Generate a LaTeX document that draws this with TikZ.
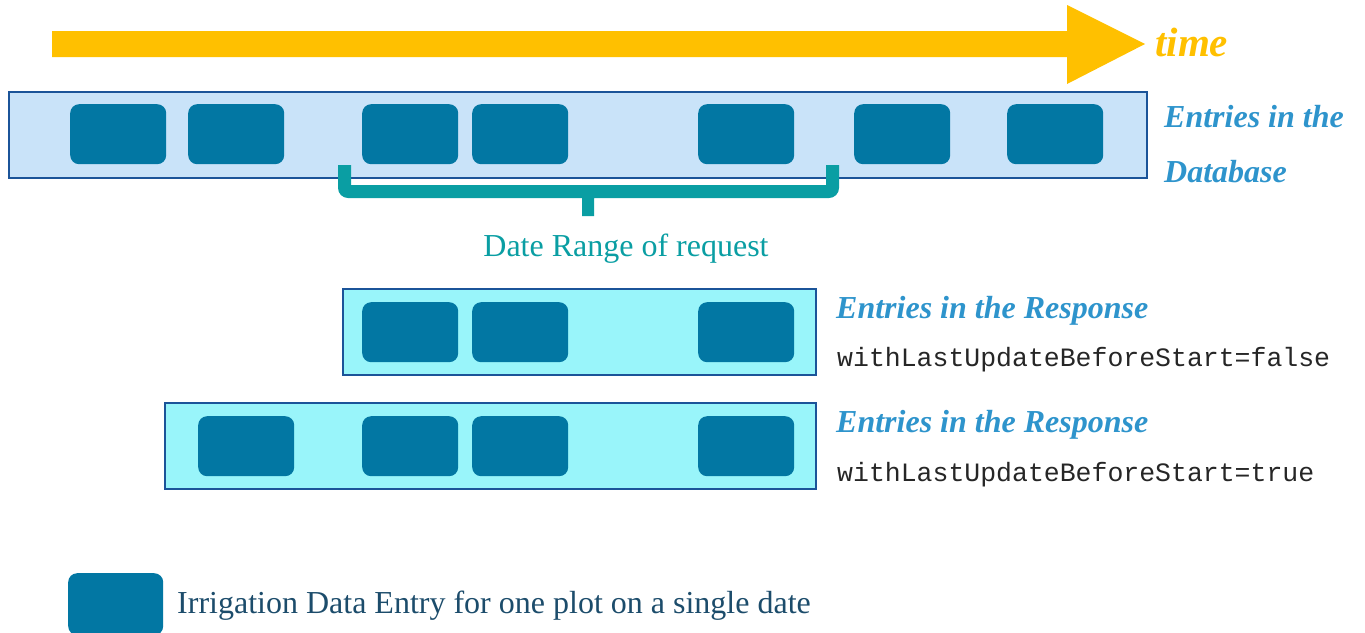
\documentclass[tikz,border=0pt]{standalone}
\usepackage{fontspec}
\setmainfont{Liberation Serif}
\setmonofont{Liberation Mono}
\definecolor{timeorange}{HTML}{FFC000}
\definecolor{dbfill}{HTML}{C9E3F9}
\definecolor{frameblue}{HTML}{1B5499}
\definecolor{entryblue}{HTML}{0277A3}
\definecolor{respfill}{HTML}{99F5FA}
\definecolor{rangeteal}{HTML}{0A9EA3}
\definecolor{labelblue}{HTML}{2E94CC}
\definecolor{codegray}{HTML}{262626}
\definecolor{legendtext}{HTML}{1C4C6B}
\begin{document}
\begin{tikzpicture}[x=1pt,y=-1pt,
  entry/.style={fill=entryblue,rounded corners=9pt,minimum width=96pt,minimum height=60pt,inner sep=0pt,anchor=north west},
  dbbox/.style={fill=dbfill,draw=frameblue,line width=2pt},
  respbox/.style={fill=respfill,draw=frameblue,line width=2pt},
  heading/.style={anchor=base west,inner sep=0pt,text=labelblue,font=\fontsize{32}{38}\selectfont\bfseries\itshape},
  code/.style={anchor=base west,inner sep=0pt,text=codegray,font=\fontsize{26.5}{30}\selectfont\ttfamily},
  plain/.style={anchor=base west,inner sep=0pt,font=\fontsize{32}{38}\selectfont}]
\useasboundingbox (0,0) rectangle (1365,632);

% time axis
\fill[timeorange] (52,31) -- (1067,31) -- (1067,5) -- (1145,44) -- (1067,84) -- (1067,57) -- (52,57) -- cycle;
\node[anchor=base west,inner sep=0pt,text=timeorange,font=\fontsize{41}{48}\selectfont\bfseries\itshape] (time) at (1155,56) {time};

% entries in the database
\draw[dbbox] (9,92) rectangle (1147,178);
\foreach \x/\n in {70/d1,188/d2,362/d3,472/d4,698/d5,854/d6,1007/d7}
  \node[entry] (\n) at (\x,104) {};
\node[heading] (dblabel1) at (1164,127) {Entries in the};
\node[heading] (dblabel2) at (1164,182) {Database};

% date range of the request: a square bracket with a centre stub
\fill[rangeteal] (338,165) -- (351,165) -- (351,185) -- (826,185) -- (826,165) -- (839,165)
  -- (839,188) to[out=-90,in=0] (829,198) -- (594,198) -- (594,216) -- (582,216) -- (582,198)
  -- (348,198) to[out=180,in=-90] (338,188) -- cycle;
\node[plain,anchor=base,text=rangeteal] (range) at (626,256) {Date Range of request};

% response without the last update before start
\draw[respbox] (343,289) rectangle (816,375);
\foreach \x/\n in {362/a1,472/a2,698/a3}
  \node[entry] (\n) at (\x,302) {};
\node[heading] (resp1) at (836,318) {Entries in the Response};
\node[code] (flag1) at (837,366) {withLastUpdateBeforeStart=false};

% response with the last update before start
\draw[respbox] (165,403) rectangle (816,489);
\foreach \x/\n in {198/b1,362/b2,472/b3,698/b4}
  \node[entry] (\n) at (\x,416) {};
\node[heading] (resp2) at (836,432) {Entries in the Response};
\node[code] (flag2) at (837,481) {withLastUpdateBeforeStart=true};

% legend
\node[entry,minimum width=95pt,minimum height=62pt] (legendbox) at (68,573) {};
\node[plain,text=legendtext] (legend) at (177,613) {Irrigation Data Entry for one plot on a single date};
\end{tikzpicture}
\end{document}
